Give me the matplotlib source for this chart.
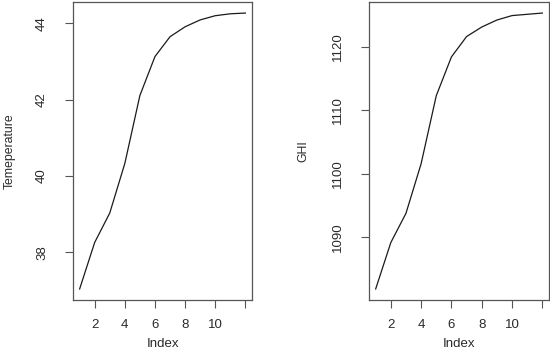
import numpy as np
import matplotlib
matplotlib.use("Agg")
import matplotlib.pyplot as plt

# values
index = list(range(1, 13))
temperature = [37.04, 38.26, 39.03, 40.33, 42.11, 43.13, 43.65, 43.91, 44.09, 44.20, 44.25, 44.27]
ghi = [1081.9, 1089.2, 1093.8, 1101.6, 1112.3, 1118.4, 1121.6, 1123.1, 1124.2, 1124.9, 1125.1, 1125.3]
x_ticks = [2, 4, 6, 8, 10, 12]
x_tick_labels = ["2", "4", "6", "8", "10", ""]
temp_ticks = [38, 40, 42, 44]
ghi_ticks = [1090, 1100, 1110, 1120]

plt.rcParams['font.family'] = ['Liberation Sans', 'DejaVu Sans']
text_col = '#2a2a2a'
box_col = '#555555'

fig = plt.figure(figsize=(5.5, 3.54), dpi=100)
ax1 = fig.add_axes([73 / 550, 54 / 354, 179 / 550, 298 / 354])
ax2 = fig.add_axes([369 / 550, 54 / 354, 180 / 550, 298 / 354])


def r_style(ax, y, yticks, ylabel, ylab_x):
    ax.plot(index, y, color='#1a1a1a', lw=0.9)
    # R style 4% padding
    ax.set_xlim(1 - 0.44, 12 + 0.44)
    lo, hi = min(y), max(y)
    pad = (hi - lo) * 0.04
    ax.set_ylim(lo - pad, hi + pad)
    ax.set_xticks(x_ticks)
    ax.set_xticklabels(x_tick_labels)
    ax.set_yticks(yticks)
    ax.set_yticklabels([str(t) for t in yticks], rotation=90, va='center')
    ax.tick_params(axis='x', length=6, width=0.8, pad=8, labelsize=9.5,
                   colors=box_col, labelcolor=text_col)
    ax.tick_params(axis='y', length=6, width=0.8, pad=12, labelsize=9.5,
                   colors=box_col, labelcolor=text_col)
    for s in ax.spines.values():
        s.set_color(box_col)
        s.set_linewidth(0.9)
    ax.set_xlabel('Index', fontsize=9.5, color=text_col)
    ax.set_ylabel(ylabel, fontsize=8.8, color=text_col)
    ax.xaxis.set_label_coords(0.5, -0.127)
    ax.yaxis.set_label_coords(ylab_x, 0.5)


r_style(ax1, temperature, temp_ticks, 'Temeperature', -0.32)
r_style(ax2, ghi, ghi_ticks, 'GHI', -0.33)

fig.savefig('out.png', dpi=100)
